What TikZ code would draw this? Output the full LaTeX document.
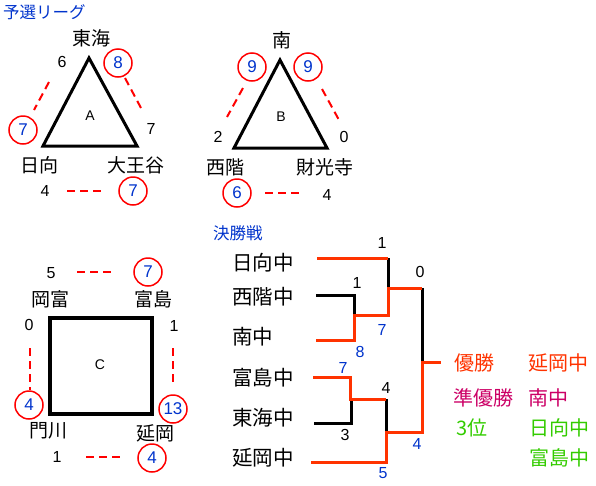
\documentclass[tikz,border=0pt]{standalone}
\usepackage{fontspec}
\setmainfont{Liberation Sans}
\newfontfamily\jp{Noto Sans CJK JP}
\definecolor{cred}{RGB}{255,0,0}
\definecolor{cblue}{RGB}{0,51,204}
\definecolor{corange}{RGB}{255,51,0}
\definecolor{cmag}{RGB}{204,0,102}
\definecolor{cgreen}{RGB}{51,204,0}
\begin{document}
\begin{tikzpicture}[x=1pt,y=-1pt,
  jpname/.style={font=\jp\fontsize{19}{19}\selectfont, inner sep=0pt},
  tname/.style={font=\jp\fontsize{20.5}{20.5}\selectfont, inner sep=0pt, anchor=west},
  jptitle/.style={font=\jp\fontsize{16.5}{16.5}\selectfont, inner sep=0pt, text=cblue, anchor=west},
  num/.style={font=\fontsize{16}{16}\selectfont, inner sep=0pt},
  bnum/.style={font=\fontsize{16}{16}\selectfont, inner sep=0pt, text=cblue},
  circ/.style={circle, draw=cred, line width=1.5pt, minimum size=28pt, inner sep=0pt, text=cblue, font=\fontsize{17}{17}\selectfont},
  dsh/.style={draw=cred, line width=2pt, dash pattern=on 8pt off 5pt},
  shp/.style={draw=black, line width=3pt, line join=miter},
  lbl/.style={font=\fontsize{14}{14}\selectfont, inner sep=0pt},
  lose/.style={draw=black, line width=3pt},
  win/.style={draw=corange, line width=3pt},
  res/.style={font=\jp\fontsize{20}{20}\selectfont, inner sep=0pt, anchor=west}]
\useasboundingbox (0,0) rectangle (596,485);

% ---------- title
\node[jptitle] (t1) at (3,12) {予選リーグ};

% ---------- Pool A
\coordinate (At) at (89,58); \coordinate (Al) at (43,146); \coordinate (Ar) at (137,146);
\draw[shp] (At) -- (Al) -- (Ar) -- cycle;
\node[lbl] (A) at (90,116) {A};
\node[jpname] (tokai) at (91,38) {東海};
\node[jpname] (hyuga) at (39,165) {日向};
\node[jpname] (daio) at (136,165) {大王谷};
\node[num] (a6) at (62,62) {6};
\node[circ] (a8) at (118,63) {8};
\node[circ] (a7l) at (23,130) {7};
\node[num] (a7r) at (151,129) {7};
\node[num] (a4) at (45,191) {4};
\node[circ] (a7b) at (133,191) {7};
\coordinate (da1) at (49,82); \coordinate (da2) at (34,110);
\coordinate (db1) at (125,78); \coordinate (db2) at (141,108);
\coordinate (dc1) at (67,191); \coordinate (dc2) at (103,191);
\draw[dsh] (da1) -- (da2);
\draw[dsh] (db1) -- (db2);
\draw[dsh] (dc1) -- (dc2);

% ---------- Pool B
\coordinate (Bt) at (280,60); \coordinate (Bl) at (234,148); \coordinate (Br) at (327,148);
\draw[shp] (Bt) -- (Bl) -- (Br) -- cycle;
\node[lbl] (B) at (281,117) {B};
\node[jpname] (minami) at (282,40) {南};
\node[jpname] (saikai) at (225,167) {西階};
\node[jpname] (zaiko) at (325,167) {財光寺};
\node[circ] (b9l) at (252,67) {9};
\node[circ] (b9r) at (308,67) {9};
\node[num] (b2) at (218,137) {2};
\node[num] (b0) at (344,137) {0};
\node[circ] (b6) at (237,193) {6};
\node[num] (b4) at (327,195) {4};
\coordinate (de1) at (243,88); \coordinate (de2) at (227,117);
\coordinate (df1) at (322,89); \coordinate (df2) at (339,120);
\coordinate (dg1) at (265,193); \coordinate (dg2) at (301,193);
\draw[dsh] (de1) -- (de2);
\draw[dsh] (df1) -- (df2);
\draw[dsh] (dg1) -- (dg2);

% ---------- Pool C
\coordinate (C1) at (50,318); \coordinate (C2) at (152,414);
\draw[draw=black, line width=4pt] (C1) rectangle (C2);
\node[lbl] (C) at (100,365) {C};
\node[jpname] (okatomi) at (50,299) {岡富};
\node[jpname] (tomishima) at (153,299) {富島};
\node[jpname] (kadogawa) at (48,431) {門川};
\node[jpname] (nobeoka) at (155,433) {延岡};
\node[num] (c5) at (51,273) {5};
\node[circ] (c7) at (148,272) {7};
\node[num] (c0) at (29,325) {0};
\node[num] (c1r) at (174,326) {1};
\node[circ] (c4l) at (29,405) {4};
\node[circ] (c13) at (173,409) {13};
\node[num] (c1b) at (57,457) {1};
\node[circ] (c4b) at (152,458) {4};
\coordinate (dh1) at (77,272); \coordinate (dh2) at (113,272);
\coordinate (di1) at (30,348); \coordinate (di2) at (30,390);
\coordinate (dj1) at (173,348); \coordinate (dj2) at (173,384);
\coordinate (dk1) at (86,457); \coordinate (dk2) at (122,457);
\draw[dsh] (dh1) -- (dh2);
\draw[dsh] (di1) -- (di2);
\draw[dsh] (dj1) -- (dj2);
\draw[dsh] (dk1) -- (dk2);

% ---------- Final tournament
\node[jptitle] (t2) at (213,233) {決勝戦};
\node[tname] (e1) at (232,263) {日向中};
\node[tname] (e2) at (232,297) {西階中};
\node[tname] (e3) at (232,337) {南中};
\node[tname] (e4) at (232,378) {富島中};
\node[tname] (e5) at (232,418) {東海中};
\node[tname] (e6) at (232,458) {延岡中};

\coordinate (h1) at (317,258); \coordinate (h1e) at (388,258);
\coordinate (s1) at (388,288);
\coordinate (h2) at (316,295); \coordinate (h2e) at (354,295);
\coordinate (m1) at (354,315); \coordinate (m1e) at (388,315);
\coordinate (h3) at (316,340); \coordinate (h3e) at (354,340);
\coordinate (f1) at (422,288); \coordinate (f2) at (422,362); \coordinate (f3) at (441,362);
\coordinate (h4) at (313,377); \coordinate (h4e) at (350,377);
\coordinate (m2) at (350,399); \coordinate (m2e) at (386,399);
\coordinate (h5) at (314,423); \coordinate (h5e) at (351,423); \coordinate (m2b) at (351,399);
\coordinate (s2) at (386,432); \coordinate (s2e) at (422,432);
\coordinate (h6) at (311,462); \coordinate (h6e) at (386,462);

\draw[lose] (h1e) -- (s1);
\draw[lose, line join=miter] (h2) -- (h2e) -- (m1);
\draw[lose] (f1) -- (f2);
\draw[lose, line join=miter] (h5) -- (h5e) -- (m2b);
\draw[lose] (m2e) -- (s2);

\draw[win] (h1) -- (h1e);
\draw[win, line join=miter] (h3) -- (h3e) -- (m1) -- (m1e) -- (s1) -- (f1);
\draw[win, line join=miter] (h4) -- (h4e) -- (m2) -- (m2e);
\draw[win, line join=miter] (h6) -- (h6e) -- (s2) -- (s2e) -- (f2) -- (f3);

\node[num] (r1) at (382,243) {1};
\node[num] (r2) at (357,283) {1};
\node[bnum] (r3) at (382,330) {7};
\node[bnum] (r4) at (360,352) {8};
\node[num] (r5) at (420,272) {0};
\node[bnum] (r6) at (343,368) {7};
\node[num] (r7) at (386,388) {4};
\node[num] (r8) at (345,435) {3};
\node[bnum] (r9) at (417,444) {4};
\node[bnum] (r10) at (383,473) {5};

% ---------- results
\node[res, text=corange] (w1) at (454,363) {優勝};
\node[res, text=corange] (w1n) at (528,363) {延岡中};
\node[res, text=cmag] (w2) at (453,398) {準優勝};
\node[res, text=cmag] (w2n) at (528,398) {南中};
\node[res, text=cgreen] (w3) at (456,428) {3位};
\node[res, text=cgreen] (w3n) at (529,428) {日向中};
\node[res, text=cgreen] (w4n) at (529,458) {富島中};
\end{tikzpicture}
\end{document}
